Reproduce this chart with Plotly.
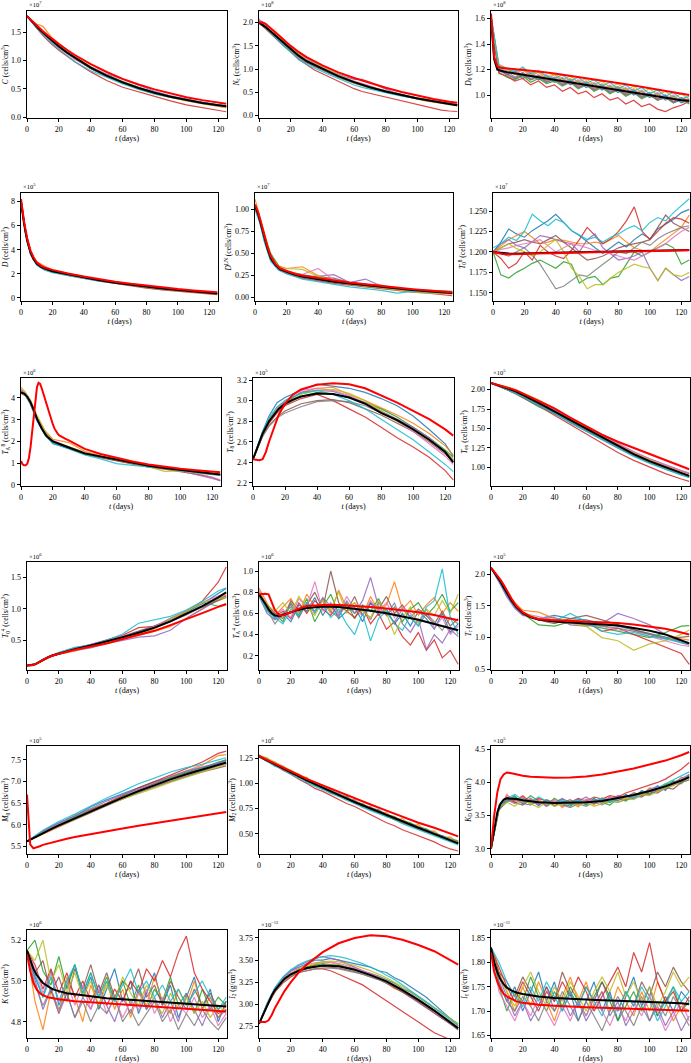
import plotly.graph_objects as go

# ---------------- time grids ----------------
T_FINE = [0, 2, 4, 6, 8, 10, 13, 16, 20, 25, 30, 40, 50, 60, 70, 80, 90, 100, 110, 120, 125]
T_SMOOTH = [0, 3, 6, 10, 15, 20, 30, 40, 50, 60, 70, 80, 90, 100, 110, 120, 125]
T_NOISY = [0, 5, 10, 15, 20, 25, 30, 35, 40, 45, 50, 55, 60, 65, 70, 75, 80, 85, 90, 95, 100, 105, 110, 115, 120, 125]
TA8_RED_T = [0, 1, 2, 3, 4, 5, 6, 7, 8, 9, 10, 11, 12, 13, 14, 15, 16, 17, 18, 19, 20, 21, 22, 23, 24,
             26, 28, 30, 35, 40, 50, 60, 70, 80, 90, 100, 110, 120, 125]
X_TICKS = [0, 20, 40, 60, 80, 100, 120]

# ---------------- C (x1e7) ----------------
C_RED = [1.78, 1.724, 1.669, 1.616, 1.565, 1.515, 1.444, 1.376, 1.290, 1.189, 1.097, 0.935, 0.798, 0.678, 0.578, 0.493, 0.420, 0.356, 0.304, 0.259, 0.239]
C_MEAN = [1.78, 1.718, 1.658, 1.600, 1.545, 1.491, 1.413, 1.339, 1.248, 1.140, 1.047, 0.875, 0.735, 0.616, 0.517, 0.433, 0.363, 0.305, 0.255, 0.214, 0.196]
C_RUNS = [
    [1.78, 1.68, 1.58, 1.47, 1.35, 1.24, 1.04, 0.86, 0.72, 0.62, 0.52, 0.44, 0.37, 0.31, 0.26, 0.22, 0.20],
    [1.78, 1.71, 1.64, 1.60, 1.42, 1.30, 1.08, 0.88, 0.73, 0.61, 0.50, 0.42, 0.35, 0.29, 0.24, 0.19, 0.17],
    [1.78, 1.70, 1.61, 1.50, 1.36, 1.24, 1.04, 0.86, 0.74, 0.63, 0.53, 0.44, 0.37, 0.31, 0.26, 0.21, 0.19],
    [1.78, 1.67, 1.57, 1.44, 1.30, 1.18, 0.98, 0.80, 0.65, 0.53, 0.45, 0.36, 0.29, 0.22, 0.17, 0.12, 0.10],
    [1.78, 1.69, 1.60, 1.49, 1.37, 1.27, 1.06, 0.89, 0.76, 0.67, 0.56, 0.46, 0.38, 0.32, 0.27, 0.22, 0.20],
    [1.78, 1.69, 1.59, 1.48, 1.35, 1.24, 1.03, 0.86, 0.72, 0.61, 0.51, 0.43, 0.36, 0.30, 0.25, 0.21, 0.19],
    [1.78, 1.68, 1.59, 1.47, 1.33, 1.22, 1.02, 0.87, 0.73, 0.62, 0.52, 0.43, 0.36, 0.30, 0.25, 0.20, 0.18],
    [1.78, 1.69, 1.60, 1.49, 1.36, 1.25, 1.05, 0.88, 0.74, 0.62, 0.52, 0.44, 0.37, 0.31, 0.26, 0.21, 0.19],
    [1.78, 1.70, 1.62, 1.52, 1.39, 1.27, 1.08, 0.89, 0.74, 0.61, 0.51, 0.42, 0.35, 0.29, 0.24, 0.20, 0.18],
    [1.78, 1.67, 1.58, 1.46, 1.32, 1.20, 0.98, 0.82, 0.70, 0.59, 0.49, 0.41, 0.35, 0.30, 0.26, 0.22, 0.21],
]

# ---------------- Nc (x1e8) ----------------
NC_RED = [2.00, 2.01, 1.98, 1.92, 1.86, 1.79, 1.70, 1.61, 1.50, 1.37, 1.26, 1.08, 0.93, 0.81, 0.70, 0.60, 0.51, 0.43, 0.36, 0.30, 0.28]
NC_MEAN = [2.00, 1.96, 1.91, 1.85, 1.79, 1.73, 1.64, 1.55, 1.42, 1.29, 1.17, 1.01, 0.85, 0.72, 0.61, 0.52, 0.44, 0.37, 0.31, 0.25, 0.225]
NC_RUNS = [
    [2.05, 1.90, 1.70, 1.55, 1.40, 1.27, 1.15, 1.06, 0.98, 0.90, 0.83, 0.77, 0.71, 0.66, 0.60, 0.55, 0.50, 0.47, 0.43, 0.39, 0.36, 0.33, 0.30, 0.27, 0.25, 0.23],
    [2.02, 1.95, 1.82, 1.66, 1.46, 1.33, 1.20, 1.10, 1.00, 0.92, 0.84, 0.77, 0.70, 0.64, 0.59, 0.55, 0.51, 0.47, 0.43, 0.39, 0.35, 0.32, 0.29, 0.26, 0.23, 0.21],
    [1.98, 1.87, 1.72, 1.58, 1.43, 1.30, 1.19, 1.12, 1.04, 0.95, 0.87, 0.80, 0.73, 0.67, 0.62, 0.57, 0.53, 0.49, 0.45, 0.41, 0.38, 0.35, 0.32, 0.29, 0.26, 0.24],
    [2.00, 1.85, 1.68, 1.52, 1.36, 1.22, 1.10, 0.98, 0.90, 0.82, 0.74, 0.66, 0.58, 0.52, 0.48, 0.45, 0.41, 0.37, 0.33, 0.28, 0.24, 0.20, 0.16, 0.12, 0.10, 0.09],
    [2.06, 1.89, 1.74, 1.60, 1.45, 1.34, 1.24, 1.12, 1.03, 0.96, 0.89, 0.83, 0.78, 0.78, 0.72, 0.64, 0.57, 0.50, 0.45, 0.41, 0.37, 0.34, 0.31, 0.28, 0.25, 0.23],
    [2.03, 1.88, 1.71, 1.57, 1.41, 1.28, 1.16, 1.07, 1.00, 0.92, 0.85, 0.78, 0.72, 0.66, 0.61, 0.56, 0.52, 0.48, 0.44, 0.41, 0.38, 0.35, 0.32, 0.29, 0.26, 0.24],
    [2.08, 1.90, 1.74, 1.60, 1.44, 1.33, 1.22, 1.14, 1.05, 0.95, 0.87, 0.80, 0.75, 0.70, 0.64, 0.58, 0.53, 0.49, 0.45, 0.42, 0.38, 0.34, 0.31, 0.28, 0.25, 0.23],
    [1.99, 1.86, 1.70, 1.55, 1.38, 1.25, 1.13, 1.05, 0.98, 0.90, 0.82, 0.76, 0.70, 0.65, 0.60, 0.56, 0.51, 0.47, 0.43, 0.40, 0.37, 0.34, 0.31, 0.28, 0.25, 0.23],
    [2.01, 1.89, 1.74, 1.60, 1.45, 1.33, 1.25, 1.14, 1.04, 0.96, 0.88, 0.80, 0.73, 0.67, 0.62, 0.57, 0.53, 0.48, 0.45, 0.41, 0.38, 0.35, 0.31, 0.28, 0.26, 0.24],
    [2.04, 1.86, 1.68, 1.52, 1.37, 1.20, 1.10, 1.02, 0.95, 0.87, 0.80, 0.73, 0.66, 0.61, 0.57, 0.53, 0.49, 0.46, 0.42, 0.39, 0.36, 0.33, 0.30, 0.27, 0.24, 0.22],
]

# ---------------- D0 (x1e8) ----------------
D0_RED = [1.64, 1.30, 1.225, 1.215, 1.212, 1.21, 1.206, 1.202, 1.198, 1.192, 1.185, 1.17, 1.152, 1.135, 1.115, 1.095, 1.075, 1.055, 1.035, 1.012, 1.0]
D0_MEAN = [1.60, 1.28, 1.20, 1.19, 1.185, 1.18, 1.175, 1.17, 1.16, 1.15, 1.14, 1.12, 1.10, 1.075, 1.055, 1.035, 1.015, 0.995, 0.98, 0.96, 0.955]
D0_RUNS = [
    [1.62, 1.20, 1.16, 1.19, 1.13, 1.17, 1.12, 1.15, 1.10, 1.13, 1.08, 1.11, 1.06, 1.09, 1.04, 1.07, 1.02, 1.05, 1.00, 1.03, 0.98, 1.01, 0.96, 0.99, 0.94, 0.96],
    [1.60, 1.24, 1.21, 1.16, 1.20, 1.15, 1.18, 1.12, 1.16, 1.10, 1.13, 1.08, 1.11, 1.06, 1.09, 1.04, 1.07, 1.02, 1.05, 0.99, 1.02, 0.97, 1.00, 0.95, 0.98, 0.96],
    [1.58, 1.18, 1.14, 1.12, 1.15, 1.10, 1.13, 1.09, 1.11, 1.07, 1.10, 1.05, 1.08, 1.03, 1.06, 1.01, 1.04, 0.99, 1.02, 0.97, 1.00, 0.96, 0.98, 0.94, 0.97, 0.93],
    [1.55, 1.17, 1.15, 1.11, 1.13, 1.08, 1.11, 1.06, 1.08, 1.03, 1.06, 1.01, 1.03, 0.98, 1.01, 0.96, 0.98, 0.93, 0.96, 0.91, 0.93, 0.89, 0.87, 0.90, 0.92, 0.95],
    [1.61, 1.21, 1.19, 1.14, 1.18, 1.13, 1.16, 1.11, 1.14, 1.09, 1.12, 1.07, 1.10, 1.05, 1.08, 1.03, 1.06, 1.01, 1.04, 0.99, 1.02, 0.97, 1.00, 0.95, 0.98, 0.94],
    [1.59, 1.19, 1.17, 1.13, 1.16, 1.12, 1.15, 1.10, 1.13, 1.08, 1.11, 1.06, 1.09, 1.04, 1.07, 1.02, 1.05, 1.00, 1.03, 0.98, 1.01, 0.96, 0.99, 0.94, 0.97, 0.95],
    [1.63, 1.22, 1.18, 1.20, 1.15, 1.18, 1.13, 1.16, 1.11, 1.14, 1.09, 1.12, 1.07, 1.10, 1.05, 1.08, 1.03, 1.06, 1.01, 1.04, 0.99, 1.02, 0.97, 1.00, 0.95, 0.97],
    [1.57, 1.20, 1.16, 1.13, 1.17, 1.12, 1.14, 1.10, 1.12, 1.08, 1.10, 1.06, 1.08, 1.04, 1.06, 1.02, 1.04, 1.00, 1.02, 0.98, 1.00, 0.96, 0.98, 0.94, 0.96, 0.94],
    [1.60, 1.22, 1.20, 1.17, 1.21, 1.16, 1.19, 1.14, 1.17, 1.12, 1.15, 1.10, 1.13, 1.08, 1.11, 1.06, 1.09, 1.04, 1.07, 1.02, 1.05, 1.00, 1.03, 0.98, 1.01, 0.97],
    [1.62, 1.23, 1.21, 1.18, 1.22, 1.17, 1.19, 1.15, 1.13, 1.16, 1.11, 1.14, 1.09, 1.12, 1.07, 1.10, 1.05, 1.08, 1.03, 1.06, 1.01, 1.04, 0.99, 1.02, 0.97, 0.99],
]

# ---------------- D (x1e5) ----------------
D_RED = [8.2, 6.3, 4.9, 3.95, 3.35, 2.95, 2.65, 2.48, 2.33, 2.17, 2.03, 1.78, 1.55, 1.35, 1.17, 1.01, 0.86, 0.74, 0.63, 0.52, 0.47]
D_MEAN = [8.0, 6.1, 4.7, 3.8, 3.2, 2.85, 2.55, 2.38, 2.22, 2.08, 1.95, 1.70, 1.47, 1.27, 1.09, 0.92, 0.78, 0.66, 0.54, 0.42, 0.37]
D_RUNS = [
    [7.9, 5.3, 3.7, 2.80, 2.40, 2.20, 1.93, 1.68, 1.44, 1.28, 1.10, 0.93, 0.77, 0.65, 0.52, 0.40, 0.35],
    [8.0, 5.5, 3.9, 3.00, 2.65, 2.30, 2.02, 1.75, 1.50, 1.30, 1.12, 0.95, 0.80, 0.68, 0.56, 0.44, 0.39],
    [8.0, 5.4, 3.8, 2.90, 2.45, 2.25, 2.00, 1.80, 1.45, 1.22, 1.06, 0.90, 0.76, 0.64, 0.52, 0.41, 0.36],
    [7.9, 5.3, 3.7, 2.80, 2.35, 2.15, 1.88, 1.62, 1.40, 1.20, 1.00, 0.82, 0.68, 0.56, 0.45, 0.33, 0.28],
    [8.0, 5.4, 3.8, 2.85, 2.45, 2.25, 1.97, 1.72, 1.50, 1.32, 1.14, 0.96, 0.82, 0.70, 0.60, 0.45, 0.40],
    [8.0, 5.4, 3.8, 2.85, 2.40, 2.20, 1.95, 1.70, 1.48, 1.28, 1.10, 0.93, 0.79, 0.67, 0.55, 0.43, 0.38],
    [8.1, 5.5, 3.9, 2.90, 2.45, 2.25, 1.98, 1.72, 1.49, 1.26, 1.08, 0.91, 0.77, 0.65, 0.53, 0.41, 0.36],
    [8.0, 5.4, 3.8, 2.85, 2.42, 2.22, 1.95, 1.70, 1.47, 1.27, 1.09, 0.92, 0.78, 0.66, 0.54, 0.42, 0.37],
    [8.0, 5.5, 3.9, 2.90, 2.50, 2.28, 2.00, 1.78, 1.50, 1.25, 1.05, 0.88, 0.74, 0.62, 0.50, 0.38, 0.33],
    [7.9, 5.3, 3.6, 2.70, 2.30, 2.10, 1.85, 1.60, 1.40, 1.22, 1.05, 0.90, 0.76, 0.65, 0.54, 0.43, 0.39],
]

# ---------------- D^LN (x1e7) ----------------
DLN_RED = [1.06, 0.97, 0.84, 0.70, 0.57, 0.47, 0.38, 0.33, 0.30, 0.27, 0.25, 0.22, 0.195, 0.17, 0.15, 0.13, 0.11, 0.095, 0.08, 0.068, 0.06]
DLN_MEAN = [1.04, 0.95, 0.82, 0.68, 0.55, 0.45, 0.37, 0.32, 0.29, 0.26, 0.24, 0.21, 0.18, 0.16, 0.14, 0.12, 0.10, 0.085, 0.07, 0.055, 0.05]
DLN_RUNS = [
    [1.02, 0.86, 0.64, 0.42, 0.32, 0.28, 0.24, 0.22, 0.20, 0.16, 0.13, 0.11, 0.09, 0.08, 0.07, 0.06, 0.05],
    [1.12, 0.93, 0.72, 0.48, 0.36, 0.33, 0.35, 0.25, 0.20, 0.17, 0.15, 0.14, 0.10, 0.08, 0.06, 0.05, 0.04],
    [1.05, 0.90, 0.70, 0.50, 0.36, 0.30, 0.26, 0.22, 0.19, 0.17, 0.15, 0.12, 0.10, 0.09, 0.08, 0.07, 0.07],
    [1.03, 0.88, 0.66, 0.43, 0.32, 0.27, 0.22, 0.19, 0.16, 0.14, 0.12, 0.10, 0.08, 0.06, 0.05, 0.03, 0.02],
    [1.04, 0.88, 0.67, 0.44, 0.33, 0.28, 0.25, 0.24, 0.26, 0.17, 0.21, 0.13, 0.11, 0.09, 0.07, 0.06, 0.05],
    [1.05, 0.89, 0.68, 0.46, 0.34, 0.30, 0.25, 0.23, 0.22, 0.17, 0.15, 0.12, 0.10, 0.09, 0.07, 0.05, 0.05],
    [1.04, 0.89, 0.68, 0.45, 0.34, 0.29, 0.26, 0.33, 0.20, 0.16, 0.14, 0.11, 0.09, 0.08, 0.07, 0.05, 0.04],
    [1.03, 0.88, 0.67, 0.44, 0.33, 0.28, 0.23, 0.20, 0.18, 0.15, 0.13, 0.11, 0.09, 0.08, 0.07, 0.06, 0.05],
    [1.06, 0.90, 0.69, 0.47, 0.35, 0.33, 0.32, 0.24, 0.19, 0.15, 0.13, 0.11, 0.09, 0.06, 0.05, 0.04, 0.07],
    [1.00, 0.85, 0.63, 0.41, 0.31, 0.27, 0.21, 0.18, 0.15, 0.12, 0.10, 0.08, 0.05, 0.07, 0.06, 0.07, 0.06],
]

# ---------------- T0^8 (x1e7) ----------------
T08_RED = [1.200, 1.199, 1.198, 1.1975, 1.197, 1.197, 1.197, 1.197, 1.1975, 1.198, 1.198, 1.1985, 1.199, 1.1995, 1.200, 1.2005, 1.201, 1.2015, 1.2018, 1.202, 1.202]
T08_MEAN = [1.200, 1.1995, 1.199, 1.1985, 1.198, 1.198, 1.1978, 1.1977, 1.198, 1.1983, 1.1986, 1.199, 1.1995, 1.200, 1.2005, 1.201, 1.2015, 1.2018, 1.202, 1.2022, 1.2023]
T08_RUNS = [
    [1.200, 1.212, 1.228, 1.222, 1.218, 1.226, 1.232, 1.238, 1.246, 1.236, 1.226, 1.220, 1.212, 1.205, 1.198, 1.205, 1.212, 1.206, 1.215, 1.222, 1.216, 1.228, 1.234, 1.240, 1.248, 1.252],
    [1.200, 1.208, 1.215, 1.220, 1.225, 1.218, 1.210, 1.212, 1.215, 1.214, 1.212, 1.210, 1.210, 1.212, 1.210, 1.215, 1.220, 1.212, 1.205, 1.202, 1.200, 1.208, 1.215, 1.222, 1.230, 1.245],
    [1.200, 1.172, 1.168, 1.175, 1.180, 1.186, 1.190, 1.185, 1.180, 1.188, 1.185, 1.162, 1.168, 1.170, 1.160, 1.168, 1.170, 1.185, 1.200, 1.195, 1.200, 1.205, 1.210, 1.205, 1.185, 1.190],
    [1.200, 1.192, 1.180, 1.186, 1.200, 1.190, 1.208, 1.200, 1.195, 1.192, 1.202, 1.215, 1.230, 1.220, 1.210, 1.216, 1.225, 1.238, 1.255, 1.225, 1.215, 1.225, 1.235, 1.242, 1.240, 1.235],
    [1.200, 1.210, 1.215, 1.208, 1.205, 1.212, 1.220, 1.218, 1.215, 1.212, 1.210, 1.200, 1.215, 1.222, 1.205, 1.198, 1.190, 1.192, 1.195, 1.200, 1.180, 1.165, 1.180, 1.172, 1.165, 1.170],
    [1.200, 1.205, 1.210, 1.212, 1.215, 1.212, 1.210, 1.215, 1.220, 1.212, 1.205, 1.198, 1.190, 1.192, 1.195, 1.200, 1.205, 1.208, 1.210, 1.212, 1.215, 1.230, 1.245, 1.235, 1.230, 1.225],
    [1.200, 1.203, 1.205, 1.208, 1.210, 1.212, 1.215, 1.208, 1.200, 1.205, 1.210, 1.208, 1.205, 1.202, 1.200, 1.198, 1.195, 1.192, 1.190, 1.195, 1.200, 1.205, 1.210, 1.218, 1.225, 1.230],
    [1.200, 1.198, 1.195, 1.200, 1.205, 1.196, 1.185, 1.170, 1.155, 1.158, 1.165, 1.172, 1.170, 1.178, 1.185, 1.192, 1.200, 1.198, 1.205, 1.212, 1.208, 1.216, 1.222, 1.226, 1.230, 1.232],
    [1.200, 1.205, 1.210, 1.204, 1.200, 1.195, 1.200, 1.208, 1.215, 1.200, 1.180, 1.170, 1.155, 1.160, 1.160, 1.168, 1.175, 1.180, 1.185, 1.182, 1.180, 1.165, 1.180, 1.172, 1.170, 1.175],
    [1.205, 1.210, 1.218, 1.214, 1.225, 1.246, 1.238, 1.232, 1.240, 1.236, 1.226, 1.220, 1.215, 1.218, 1.212, 1.218, 1.222, 1.228, 1.232, 1.226, 1.236, 1.242, 1.238, 1.248, 1.256, 1.265],
]

# ---------------- TA^8 (x1e6) ----------------
TA8_RED = [1.10, 0.95, 0.90, 0.90, 0.98, 1.25, 1.75, 2.45, 3.20, 3.95, 4.50, 4.70, 4.65, 4.45, 4.20, 3.95, 3.70, 3.45, 3.20, 2.98, 2.78, 2.60, 2.46, 2.36, 2.28,
           2.18, 2.12, 2.05, 1.85, 1.66, 1.42, 1.24, 1.08, 0.94, 0.83, 0.74, 0.67, 0.61, 0.58]
TA8_MEAN = [4.25, 4.20, 4.05, 3.80, 3.45, 3.05, 2.60, 2.25, 2.00, 1.85, 1.72, 1.45, 1.30, 1.15, 1.00, 0.88, 0.78, 0.69, 0.60, 0.52, 0.48]
TA8_RUNS = [
    [4.30, 4.10, 3.70, 2.95, 2.30, 1.90, 1.68, 1.42, 1.28, 1.12, 0.98, 0.86, 0.76, 0.68, 0.58, 0.50, 0.46],
    [4.40, 4.20, 3.90, 3.15, 2.50, 2.10, 1.95, 1.55, 1.35, 1.20, 1.06, 0.92, 0.82, 0.72, 0.62, 0.55, 0.50],
    [4.30, 4.15, 3.80, 3.05, 2.40, 2.00, 1.72, 1.48, 1.32, 1.15, 1.00, 0.88, 0.78, 0.68, 0.58, 0.50, 0.47],
    [4.20, 4.10, 3.75, 3.00, 2.35, 1.95, 1.68, 1.40, 1.25, 1.10, 0.95, 0.82, 0.72, 0.62, 0.50, 0.35, 0.20],
    [4.35, 4.15, 3.80, 3.05, 2.40, 2.02, 1.75, 1.48, 1.30, 1.16, 1.04, 0.90, 0.77, 0.64, 0.48, 0.30, 0.20],
    [4.30, 4.12, 3.80, 3.05, 2.40, 2.00, 1.72, 1.45, 1.30, 1.15, 1.02, 0.88, 0.78, 0.69, 0.60, 0.52, 0.48],
    [4.40, 4.20, 3.85, 3.10, 2.45, 2.05, 1.75, 1.50, 1.32, 1.16, 1.03, 0.88, 0.79, 0.70, 0.55, 0.35, 0.25],
    [4.25, 4.10, 3.78, 3.02, 2.38, 1.98, 1.70, 1.44, 1.28, 1.14, 1.00, 0.86, 0.77, 0.68, 0.58, 0.50, 0.46],
    [4.50, 4.25, 3.85, 3.20, 2.50, 2.00, 1.75, 1.50, 1.30, 1.15, 1.00, 0.84, 0.62, 0.64, 0.55, 0.48, 0.44],
    [4.30, 4.10, 3.75, 3.00, 2.35, 1.92, 1.65, 1.38, 1.20, 0.98, 0.90, 0.84, 0.76, 0.66, 0.56, 0.48, 0.44],
]

# ---------------- T8 (x1e5) ----------------
T8_RED = [2.43, 2.425, 2.42, 2.43, 2.50, 2.60, 2.74, 2.86, 2.97, 3.06, 3.11, 3.155, 3.17, 3.16, 3.12, 3.05, 2.98, 2.90, 2.82, 2.72, 2.66]
T8_MEAN = [2.43, 2.52, 2.60, 2.68, 2.74, 2.80, 2.86, 2.92, 2.97, 3.01, 3.04, 3.07, 3.065, 3.03, 2.97, 2.88, 2.81, 2.72, 2.62, 2.50, 2.40]
T8_RUNS = [
    [2.43, 2.57, 2.70, 2.85, 2.98, 3.03, 3.10, 3.16, 3.14, 3.12, 3.08, 3.02, 2.95, 2.85, 2.72, 2.58, 2.46],
    [2.43, 2.56, 2.69, 2.82, 2.92, 2.99, 3.08, 3.12, 3.13, 3.06, 3.00, 2.93, 2.86, 2.78, 2.68, 2.56, 2.47],
    [2.43, 2.55, 2.67, 2.79, 2.90, 2.96, 3.04, 3.08, 3.06, 3.03, 2.98, 2.92, 2.84, 2.74, 2.64, 2.52, 2.45],
    [2.43, 2.55, 2.66, 2.78, 2.88, 2.95, 3.02, 3.06, 3.00, 2.92, 2.84, 2.74, 2.64, 2.55, 2.45, 2.32, 2.23],
    [2.43, 2.56, 2.68, 2.81, 2.92, 2.98, 3.08, 3.10, 3.09, 3.04, 2.98, 2.90, 2.82, 2.74, 2.64, 2.50, 2.42],
    [2.43, 2.55, 2.66, 2.76, 2.84, 2.90, 2.97, 3.00, 3.01, 2.98, 2.92, 2.86, 2.78, 2.70, 2.60, 2.48, 2.41],
    [2.43, 2.56, 2.68, 2.82, 2.93, 3.00, 3.10, 3.12, 3.10, 3.05, 2.98, 2.90, 2.80, 2.70, 2.58, 2.46, 2.38],
    [2.43, 2.54, 2.65, 2.75, 2.83, 2.88, 2.94, 2.99, 3.00, 2.99, 2.95, 2.88, 2.80, 2.72, 2.62, 2.50, 2.42],
    [2.43, 2.56, 2.69, 2.81, 2.91, 2.98, 3.06, 3.10, 3.11, 3.07, 3.00, 2.90, 2.80, 2.72, 2.62, 2.50, 2.43],
    [2.43, 2.57, 2.70, 2.83, 2.94, 3.00, 3.07, 3.10, 3.06, 3.00, 2.92, 2.82, 2.72, 2.62, 2.50, 2.38, 2.31],
]

# ---------------- Tex (x1e5) ----------------
TEX_RED = [2.085, 2.075, 2.065, 2.055, 2.043, 2.03, 2.01, 1.99, 1.95, 1.905, 1.86, 1.76, 1.64, 1.53, 1.42, 1.33, 1.25, 1.17, 1.09, 1.01, 0.975]
TEX_MEAN = [2.085, 2.073, 2.061, 2.049, 2.035, 2.02, 1.998, 1.975, 1.93, 1.88, 1.83, 1.72, 1.60, 1.49, 1.38, 1.27, 1.17, 1.08, 1.00, 0.92, 0.89]
TEX_RUNS = [
    [2.085, 2.06, 2.04, 2.01, 1.96, 1.91, 1.80, 1.68, 1.58, 1.47, 1.36, 1.25, 1.15, 1.06, 0.98, 0.91, 0.88],
    [2.085, 2.07, 2.05, 2.02, 1.98, 1.94, 1.84, 1.73, 1.61, 1.50, 1.39, 1.29, 1.19, 1.10, 1.02, 0.95, 0.92],
    [2.085, 2.06, 2.04, 2.00, 1.96, 1.90, 1.78, 1.70, 1.60, 1.49, 1.38, 1.27, 1.17, 1.07, 0.99, 0.91, 0.88],
    [2.085, 2.06, 2.04, 2.00, 1.95, 1.90, 1.79, 1.67, 1.55, 1.42, 1.30, 1.19, 1.09, 1.00, 0.92, 0.85, 0.82],
    [2.085, 2.07, 2.05, 2.02, 1.98, 1.94, 1.85, 1.74, 1.62, 1.52, 1.41, 1.30, 1.20, 1.11, 1.03, 0.95, 0.92],
    [2.085, 2.065, 2.045, 2.02, 1.97, 1.92, 1.82, 1.71, 1.59, 1.48, 1.37, 1.26, 1.16, 1.07, 0.99, 0.91, 0.88],
    [2.085, 2.07, 2.05, 2.03, 1.98, 1.94, 1.85, 1.75, 1.63, 1.52, 1.41, 1.30, 1.20, 1.11, 1.03, 0.96, 0.93],
    [2.085, 2.065, 2.045, 2.02, 1.97, 1.92, 1.82, 1.71, 1.59, 1.48, 1.37, 1.26, 1.15, 1.06, 0.98, 0.90, 0.87],
    [2.085, 2.07, 2.06, 2.04, 2.00, 1.96, 1.87, 1.76, 1.63, 1.51, 1.40, 1.28, 1.18, 1.09, 1.01, 0.93, 0.90],
    [2.085, 2.06, 2.04, 2.00, 1.95, 1.91, 1.79, 1.70, 1.57, 1.46, 1.35, 1.24, 1.14, 1.05, 0.97, 0.90, 0.87],
]

# ---------------- T0^4 (x1e6) ----------------
T04_RED = [0.10, 0.10, 0.11, 0.13, 0.16, 0.19, 0.23, 0.26, 0.29, 0.32, 0.35, 0.40, 0.45, 0.52, 0.58, 0.65, 0.74, 0.83, 0.93, 1.03, 1.07]
T04_MEAN = [0.10, 0.10, 0.11, 0.13, 0.16, 0.19, 0.23, 0.26, 0.29, 0.33, 0.36, 0.42, 0.48, 0.55, 0.62, 0.70, 0.80, 0.92, 1.04, 1.18, 1.26]
T04_RUNS = [
    [0.10, 0.11, 0.13, 0.19, 0.26, 0.30, 0.38, 0.43, 0.49, 0.56, 0.64, 0.72, 0.82, 0.95, 1.08, 1.24, 1.32],
    [0.10, 0.11, 0.13, 0.18, 0.24, 0.28, 0.33, 0.40, 0.46, 0.52, 0.58, 0.64, 0.72, 0.85, 1.00, 1.16, 1.22],
    [0.10, 0.12, 0.14, 0.20, 0.26, 0.30, 0.35, 0.42, 0.49, 0.54, 0.60, 0.72, 0.85, 0.96, 1.10, 1.04, 1.08],
    [0.10, 0.11, 0.13, 0.19, 0.25, 0.29, 0.36, 0.43, 0.51, 0.58, 0.70, 0.72, 0.80, 0.96, 1.12, 1.42, 1.66],
    [0.10, 0.11, 0.13, 0.18, 0.24, 0.28, 0.34, 0.38, 0.45, 0.50, 0.55, 0.57, 0.66, 0.85, 1.00, 1.14, 1.20],
    [0.10, 0.11, 0.13, 0.19, 0.25, 0.29, 0.36, 0.42, 0.48, 0.56, 0.64, 0.73, 0.82, 0.92, 1.02, 1.12, 1.18],
    [0.10, 0.11, 0.13, 0.19, 0.25, 0.30, 0.37, 0.43, 0.50, 0.57, 0.62, 0.72, 0.85, 0.98, 1.10, 1.20, 1.25],
    [0.10, 0.11, 0.13, 0.19, 0.25, 0.29, 0.35, 0.41, 0.47, 0.54, 0.60, 0.69, 0.79, 0.90, 1.03, 1.15, 1.20],
    [0.10, 0.11, 0.13, 0.19, 0.25, 0.29, 0.35, 0.40, 0.46, 0.52, 0.60, 0.68, 0.82, 0.96, 1.10, 1.15, 1.18],
    [0.10, 0.12, 0.14, 0.20, 0.26, 0.31, 0.39, 0.43, 0.50, 0.60, 0.77, 0.82, 0.88, 0.98, 1.12, 1.28, 1.33],
]

# ---------------- TA^4 (x1e6) ----------------
TA4_RED = [0.78, 0.785, 0.785, 0.78, 0.70, 0.63, 0.58, 0.585, 0.61, 0.645, 0.67, 0.68, 0.678, 0.67, 0.66, 0.645, 0.63, 0.61, 0.585, 0.555, 0.535]
TA4_MEAN = [0.78, 0.74, 0.69, 0.64, 0.60, 0.58, 0.575, 0.59, 0.61, 0.635, 0.65, 0.665, 0.66, 0.645, 0.625, 0.60, 0.57, 0.54, 0.50, 0.46, 0.44]
TA4_RUNS = [
    [0.78, 0.65, 0.55, 0.60, 0.52, 0.68, 0.62, 0.75, 0.58, 0.70, 0.55, 0.62, 0.66, 0.52, 0.70, 0.58, 0.64, 0.50, 0.60, 0.48, 0.62, 0.55, 0.45, 0.60, 0.42, 0.50],
    [0.84, 0.70, 0.58, 0.66, 0.74, 0.60, 0.78, 0.66, 0.72, 0.60, 0.82, 0.65, 0.70, 0.58, 0.76, 0.62, 0.68, 0.90, 0.64, 0.72, 0.58, 0.68, 0.75, 0.60, 0.70, 0.62],
    [0.80, 0.62, 0.60, 0.52, 0.70, 0.58, 0.74, 0.52, 0.66, 0.78, 0.60, 0.70, 0.55, 0.68, 0.62, 0.74, 0.58, 0.66, 0.52, 0.64, 0.70, 0.58, 0.66, 0.78, 0.62, 0.70],
    [0.78, 0.66, 0.57, 0.62, 0.55, 0.70, 0.60, 0.72, 0.64, 0.58, 0.68, 0.62, 0.56, 0.66, 0.50, 0.60, 0.45, 0.52, 0.38, 0.30, 0.42, 0.25, 0.35, 0.18, 0.25, 0.12],
    [0.76, 0.60, 0.54, 0.58, 0.68, 0.56, 0.70, 0.62, 0.75, 0.66, 0.58, 0.68, 0.60, 0.72, 0.94, 0.66, 0.58, 0.70, 0.50, 0.42, 0.55, 0.26, 0.40, 0.32, 0.45, 0.38],
    [0.80, 0.68, 0.60, 0.55, 0.72, 0.62, 0.68, 0.80, 0.64, 1.00, 0.70, 0.62, 0.76, 0.58, 0.70, 0.64, 0.76, 0.60, 0.68, 0.56, 0.64, 0.58, 0.50, 0.62, 0.48, 0.55],
    [0.82, 0.66, 0.58, 0.64, 0.56, 0.74, 0.66, 0.90, 0.62, 0.70, 0.60, 0.76, 0.64, 0.58, 0.72, 0.62, 0.70, 0.56, 0.66, 0.60, 0.52, 0.64, 0.46, 0.56, 0.40, 0.48],
    [0.78, 0.64, 0.50, 0.60, 0.66, 0.56, 0.70, 0.60, 0.74, 0.62, 0.56, 0.72, 0.60, 0.66, 0.54, 0.70, 0.60, 0.52, 0.64, 0.56, 0.48, 0.60, 0.52, 0.44, 0.56, 0.50],
    [0.80, 0.68, 0.62, 0.70, 0.60, 0.76, 0.66, 0.58, 0.72, 0.64, 0.80, 0.60, 0.70, 0.62, 0.56, 0.72, 0.60, 0.40, 0.56, 0.66, 0.50, 0.64, 0.58, 0.72, 0.60, 0.78],
    [0.78, 0.62, 0.56, 0.50, 0.64, 0.58, 0.70, 0.62, 0.68, 0.56, 0.64, 0.50, 0.40, 0.60, 0.34, 0.55, 0.62, 0.50, 0.44, 0.58, 0.48, 0.66, 0.72, 1.02, 0.56, 0.40],
]

# ---------------- Tr (x1e5) ----------------
TR_RED = [2.10, 2.04, 1.98, 1.91, 1.83, 1.74, 1.61, 1.50, 1.40, 1.33, 1.29, 1.275, 1.265, 1.25, 1.24, 1.23, 1.205, 1.175, 1.14, 1.08, 1.05]
TR_MEAN = [2.10, 2.03, 1.96, 1.88, 1.79, 1.70, 1.58, 1.48, 1.39, 1.32, 1.285, 1.255, 1.24, 1.225, 1.21, 1.19, 1.15, 1.11, 1.05, 0.96, 0.91]
TR_RUNS = [
    [2.10, 1.98, 1.85, 1.67, 1.48, 1.36, 1.30, 1.35, 1.30, 1.28, 1.22, 1.18, 1.12, 1.06, 1.00, 0.95, 0.92],
    [2.10, 2.00, 1.88, 1.70, 1.55, 1.43, 1.40, 1.30, 1.28, 1.25, 1.22, 1.20, 1.15, 1.10, 1.05, 0.98, 0.96],
    [2.10, 2.00, 1.86, 1.68, 1.50, 1.38, 1.20, 1.18, 1.25, 1.20, 1.15, 1.10, 1.05, 1.00, 1.08, 1.18, 1.19],
    [2.10, 1.99, 1.86, 1.68, 1.50, 1.38, 1.28, 1.25, 1.22, 1.25, 1.10, 1.15, 1.05, 0.95, 0.85, 0.75, 0.58],
    [2.10, 1.97, 1.83, 1.64, 1.46, 1.35, 1.30, 1.32, 1.20, 1.18, 1.22, 1.38, 1.30, 1.20, 1.05, 0.92, 0.88],
    [2.10, 2.00, 1.87, 1.69, 1.50, 1.37, 1.28, 1.22, 1.30, 1.35, 1.28, 1.20, 1.12, 1.05, 0.98, 1.00, 1.02],
    [2.10, 2.00, 1.87, 1.69, 1.50, 1.38, 1.33, 1.28, 1.22, 1.26, 1.18, 1.12, 1.10, 1.02, 0.95, 0.88, 0.86],
    [2.10, 1.99, 1.86, 1.69, 1.50, 1.38, 1.28, 1.25, 1.22, 1.20, 1.18, 1.15, 1.10, 1.05, 1.00, 0.92, 0.90],
    [2.10, 2.00, 1.88, 1.71, 1.52, 1.40, 1.30, 1.27, 1.22, 1.18, 1.00, 0.95, 0.80, 0.90, 0.95, 1.05, 1.12],
    [2.10, 1.99, 1.86, 1.68, 1.50, 1.38, 1.28, 1.26, 1.38, 1.25, 1.10, 1.05, 1.08, 1.02, 0.98, 0.92, 0.90],
]

# ---------------- M0 (x1e5) ----------------
M0_RED = [6.70, 5.55, 5.46, 5.48, 5.51, 5.54, 5.57, 5.60, 5.64, 5.68, 5.72, 5.79, 5.86, 5.92, 5.98, 6.04, 6.10, 6.16, 6.21, 6.27, 6.30]
M0_MEAN = [5.62, 5.66, 5.70, 5.74, 5.78, 5.82, 5.87, 5.92, 5.99, 6.07, 6.15, 6.32, 6.48, 6.63, 6.78, 6.92, 7.05, 7.17, 7.28, 7.39, 7.44]
M0_RUNS = [
    [5.62, 5.70, 5.76, 5.86, 5.96, 6.05, 6.20, 6.42, 6.58, 6.72, 6.86, 7.00, 7.10, 7.22, 7.32, 7.42, 7.50],
    [5.62, 5.67, 5.72, 5.80, 5.88, 5.97, 6.12, 6.28, 6.45, 6.62, 6.80, 6.96, 7.10, 7.25, 7.38, 7.60, 7.62],
    [5.62, 5.69, 5.75, 5.83, 5.92, 6.00, 6.18, 6.36, 6.50, 6.66, 6.80, 6.95, 7.08, 7.20, 7.30, 7.45, 7.50],
    [5.62, 5.68, 5.74, 5.82, 5.92, 6.00, 6.16, 6.34, 6.50, 6.68, 6.85, 7.00, 7.15, 7.30, 7.45, 7.65, 7.70],
    [5.62, 5.69, 5.76, 5.85, 5.95, 6.04, 6.22, 6.38, 6.55, 6.70, 6.82, 6.96, 7.12, 7.24, 7.34, 7.44, 7.48],
    [5.62, 5.67, 5.73, 5.81, 5.90, 5.98, 6.14, 6.30, 6.46, 6.60, 6.75, 6.88, 7.00, 7.12, 7.22, 7.32, 7.36],
    [5.62, 5.68, 5.74, 5.83, 5.92, 6.00, 6.15, 6.30, 6.47, 6.62, 6.76, 6.90, 7.03, 7.15, 7.26, 7.37, 7.42],
    [5.62, 5.67, 5.72, 5.80, 5.89, 5.97, 6.12, 6.28, 6.44, 6.60, 6.74, 6.88, 7.00, 7.12, 7.24, 7.36, 7.40],
    [5.62, 5.68, 5.74, 5.82, 5.90, 5.98, 6.14, 6.30, 6.46, 6.60, 6.72, 6.85, 6.98, 7.10, 7.22, 7.34, 7.40],
    [5.62, 5.70, 5.78, 5.88, 5.98, 6.08, 6.25, 6.44, 6.62, 6.78, 6.95, 7.08, 7.22, 7.32, 7.40, 7.50, 7.55],
]

# ---------------- M2 (x1e6) ----------------
M2_RED = [1.27, 1.255, 1.24, 1.225, 1.21, 1.195, 1.17, 1.15, 1.12, 1.08, 1.045, 0.98, 0.915, 0.85, 0.79, 0.73, 0.67, 0.61, 0.56, 0.50, 0.475]
M2_MEAN = [1.27, 1.25, 1.235, 1.22, 1.205, 1.19, 1.165, 1.14, 1.11, 1.07, 1.03, 0.955, 0.885, 0.815, 0.75, 0.685, 0.62, 0.56, 0.50, 0.435, 0.405]
M2_RUNS = [
    [1.27, 1.25, 1.18, 1.17, 1.10, 1.09, 1.02, 1.01, 0.94, 0.93, 0.87, 0.87, 0.80, 0.79, 0.74, 0.73, 0.67, 0.66, 0.61, 0.60, 0.55, 0.54, 0.49, 0.48, 0.43, 0.42],
    [1.28, 1.22, 1.21, 1.14, 1.13, 1.06, 1.06, 0.98, 0.98, 0.90, 0.90, 0.84, 0.84, 0.77, 0.77, 0.71, 0.71, 0.64, 0.65, 0.58, 0.59, 0.52, 0.53, 0.46, 0.47, 0.41],
    [1.26, 1.24, 1.17, 1.16, 1.09, 1.09, 1.02, 1.01, 0.95, 0.94, 0.88, 0.87, 0.81, 0.80, 0.75, 0.74, 0.69, 0.67, 0.63, 0.61, 0.57, 0.55, 0.51, 0.48, 0.45, 0.43],
    [1.27, 1.22, 1.18, 1.13, 1.09, 1.04, 1.00, 0.95, 0.92, 0.88, 0.84, 0.80, 0.77, 0.73, 0.69, 0.65, 0.61, 0.58, 0.54, 0.51, 0.48, 0.45, 0.42, 0.38, 0.35, 0.33],
    [1.28, 1.24, 1.20, 1.16, 1.12, 1.08, 1.04, 1.00, 0.97, 0.93, 0.90, 0.86, 0.83, 0.79, 0.76, 0.73, 0.69, 0.66, 0.62, 0.60, 0.56, 0.54, 0.50, 0.48, 0.44, 0.42],
    [1.26, 1.23, 1.18, 1.15, 1.10, 1.07, 1.02, 0.99, 0.95, 0.91, 0.88, 0.85, 0.81, 0.78, 0.74, 0.71, 0.68, 0.65, 0.61, 0.58, 0.55, 0.52, 0.49, 0.46, 0.43, 0.40],
    [1.27, 1.23, 1.20, 1.16, 1.12, 1.07, 1.04, 1.00, 0.96, 0.92, 0.89, 0.86, 0.82, 0.79, 0.76, 0.72, 0.69, 0.66, 0.63, 0.59, 0.56, 0.53, 0.50, 0.47, 0.44, 0.41],
    [1.27, 1.22, 1.19, 1.14, 1.11, 1.06, 1.03, 0.98, 0.95, 0.91, 0.88, 0.84, 0.81, 0.77, 0.74, 0.71, 0.68, 0.64, 0.61, 0.58, 0.55, 0.52, 0.49, 0.46, 0.43, 0.40],
    [1.28, 1.25, 1.21, 1.17, 1.13, 1.09, 1.05, 1.01, 0.97, 0.93, 0.89, 0.86, 0.82, 0.79, 0.75, 0.72, 0.68, 0.65, 0.62, 0.59, 0.56, 0.53, 0.50, 0.47, 0.44, 0.41],
    [1.26, 1.22, 1.17, 1.14, 1.09, 1.05, 1.01, 0.97, 0.94, 0.90, 0.87, 0.83, 0.80, 0.76, 0.73, 0.70, 0.67, 0.64, 0.60, 0.57, 0.54, 0.51, 0.48, 0.45, 0.42, 0.39],
]

# ---------------- K_D (x1e5) ----------------
KD_RED = [3.00, 3.50, 3.85, 4.05, 4.12, 4.15, 4.14, 4.12, 4.10, 4.085, 4.08, 4.07, 4.075, 4.09, 4.12, 4.16, 4.21, 4.27, 4.33, 4.41, 4.46]
KD_MEAN = [3.00, 3.30, 3.55, 3.68, 3.74, 3.76, 3.76, 3.75, 3.73, 3.71, 3.70, 3.69, 3.69, 3.70, 3.72, 3.76, 3.81, 3.87, 3.94, 4.03, 4.08]
KD_RUNS = [
    [3.00, 3.65, 3.72, 3.80, 3.68, 3.76, 3.65, 3.74, 3.64, 3.72, 3.66, 3.75, 3.67, 3.76, 3.68, 3.78, 3.72, 3.82, 3.76, 3.88, 3.82, 3.95, 3.88, 4.02, 4.00, 4.12],
    [3.00, 3.58, 3.82, 3.70, 3.78, 3.66, 3.75, 3.64, 3.74, 3.62, 3.72, 3.63, 3.75, 3.66, 3.77, 3.70, 3.80, 3.74, 3.85, 3.80, 3.92, 3.86, 3.98, 3.95, 4.08, 4.05],
    [3.00, 3.60, 3.70, 3.78, 3.70, 3.80, 3.72, 3.66, 3.76, 3.68, 3.64, 3.72, 3.66, 3.74, 3.70, 3.66, 3.76, 3.72, 3.80, 3.86, 3.82, 3.90, 3.96, 4.02, 3.98, 4.10],
    [3.00, 3.64, 3.78, 3.72, 3.80, 3.70, 3.76, 3.72, 3.68, 3.75, 3.70, 3.76, 3.72, 3.78, 3.75, 3.80, 3.78, 3.84, 3.88, 3.92, 3.95, 4.00, 4.05, 4.12, 4.20, 4.30],
    [3.00, 3.66, 3.74, 3.68, 3.76, 3.72, 3.66, 3.74, 3.70, 3.76, 3.68, 3.72, 3.78, 3.70, 3.76, 3.74, 3.80, 3.78, 3.84, 3.82, 3.90, 3.94, 3.92, 4.00, 4.06, 4.12],
    [3.00, 3.60, 3.76, 3.70, 3.66, 3.74, 3.68, 3.72, 3.65, 3.70, 3.74, 3.66, 3.72, 3.68, 3.74, 3.70, 3.76, 3.74, 3.80, 3.78, 3.86, 3.84, 3.92, 3.90, 4.00, 4.04],
    [3.00, 3.62, 3.80, 3.74, 3.70, 3.76, 3.70, 3.66, 3.72, 3.64, 3.70, 3.68, 3.74, 3.72, 3.70, 3.78, 3.74, 3.80, 3.78, 3.84, 3.88, 3.86, 3.94, 3.98, 4.04, 4.08],
    [3.00, 3.58, 3.72, 3.76, 3.68, 3.66, 3.72, 3.64, 3.70, 3.66, 3.62, 3.68, 3.64, 3.70, 3.66, 3.72, 3.70, 3.74, 3.76, 3.80, 3.82, 3.88, 3.90, 3.96, 4.00, 4.04],
    [3.00, 3.62, 3.70, 3.64, 3.74, 3.68, 3.62, 3.70, 3.64, 3.68, 3.72, 3.66, 3.70, 3.64, 3.68, 3.72, 3.70, 3.76, 3.74, 3.82, 3.80, 3.86, 3.92, 3.96, 4.02, 4.06],
    [3.00, 3.64, 3.76, 3.82, 3.74, 3.70, 3.78, 3.72, 3.68, 3.74, 3.70, 3.74, 3.68, 3.72, 3.76, 3.70, 3.76, 3.80, 3.76, 3.84, 3.88, 3.92, 3.98, 4.04, 4.10, 4.16],
]

# ---------------- K (x1e6) ----------------
K_RED = [5.13, 5.05, 4.99, 4.96, 4.94, 4.93, 4.92, 4.915, 4.91, 4.905, 4.90, 4.895, 4.89, 4.885, 4.88, 4.875, 4.87, 4.865, 4.86, 4.855, 4.85]
K_MEAN = [5.15, 5.10, 5.06, 5.03, 5.01, 4.99, 4.975, 4.96, 4.95, 4.94, 4.935, 4.925, 4.915, 4.91, 4.905, 4.90, 4.895, 4.89, 4.885, 4.88, 4.875]
K_RUNS = [
    [5.15, 5.02, 4.92, 5.05, 4.88, 4.98, 5.08, 4.92, 5.02, 4.86, 4.96, 5.06, 4.90, 5.00, 4.84, 4.94, 5.04, 4.88, 4.98, 4.82, 4.92, 5.02, 4.86, 4.96, 4.80, 4.90],
    [5.15, 4.90, 4.76, 4.95, 4.84, 5.02, 4.92, 4.80, 4.98, 4.88, 5.00, 4.86, 4.96, 4.82, 4.94, 4.88, 5.02, 4.90, 4.84, 4.96, 4.88, 5.00, 4.86, 4.92, 4.82, 4.88],
    [5.15, 5.20, 5.05, 4.98, 5.12, 4.96, 5.08, 4.94, 5.04, 4.92, 5.02, 4.90, 5.00, 4.88, 4.98, 4.86, 4.96, 4.90, 5.02, 4.88, 4.94, 4.84, 4.96, 4.86, 4.92, 4.88],
    [5.15, 5.08, 4.96, 5.06, 4.94, 5.04, 4.92, 5.00, 4.90, 4.98, 4.88, 4.96, 4.90, 5.00, 4.94, 5.06, 5.00, 5.10, 5.02, 5.14, 5.22, 5.04, 4.96, 4.90, 4.84, 4.86],
    [5.15, 5.00, 4.86, 4.96, 4.84, 4.94, 4.82, 4.92, 4.86, 4.98, 4.88, 4.80, 4.92, 4.84, 4.96, 4.86, 4.92, 4.82, 4.90, 4.80, 4.94, 4.86, 4.78, 4.88, 4.82, 4.86],
    [5.15, 5.04, 5.10, 4.94, 5.02, 4.90, 5.06, 4.96, 5.08, 4.94, 5.04, 4.92, 5.00, 4.96, 5.06, 4.92, 4.98, 4.88, 5.00, 4.92, 4.86, 4.96, 4.88, 4.94, 4.86, 4.90],
    [5.15, 5.06, 4.94, 5.04, 4.90, 5.00, 4.88, 4.98, 4.86, 4.96, 4.84, 4.92, 4.82, 4.90, 4.86, 4.96, 4.84, 4.92, 4.80, 4.88, 4.84, 4.92, 4.82, 4.88, 4.78, 4.84],
    [5.15, 4.98, 4.88, 4.96, 4.86, 4.94, 4.82, 4.90, 4.80, 4.88, 4.84, 4.92, 4.80, 4.86, 4.78, 4.84, 4.90, 4.80, 4.86, 4.76, 4.84, 4.78, 4.86, 4.80, 4.76, 4.82],
    [5.15, 5.10, 5.20, 5.00, 5.08, 4.94, 5.04, 4.92, 5.00, 4.88, 4.98, 4.90, 5.02, 4.94, 4.88, 4.98, 4.90, 4.84, 4.94, 4.86, 4.92, 4.84, 4.90, 4.82, 4.88, 4.84],
    [5.15, 5.04, 4.92, 5.02, 4.90, 5.00, 5.08, 4.94, 5.04, 4.92, 5.00, 4.90, 4.98, 5.06, 4.94, 5.00, 4.92, 4.98, 4.90, 4.96, 4.88, 4.94, 5.00, 4.92, 4.86, 4.92],
]

# ---------------- I2 (x1e-12) ----------------
I2_RED = [2.80, 2.80, 2.80, 2.82, 2.88, 2.96, 3.06, 3.15, 3.25, 3.36, 3.45, 3.59, 3.69, 3.75, 3.78, 3.77, 3.73, 3.67, 3.60, 3.50, 3.45]
I2_MEAN = [2.78, 2.86, 2.95, 3.03, 3.10, 3.16, 3.23, 3.29, 3.34, 3.38, 3.41, 3.44, 3.43, 3.39, 3.33, 3.26, 3.16, 3.05, 2.93, 2.80, 2.73]
I2_RUNS = [
    [2.78, 3.00, 3.18, 3.30, 3.38, 3.42, 3.46, 3.50, 3.50, 3.52, 3.50, 3.48, 3.46, 3.44, 3.42, 3.38, 3.36, 3.30, 3.26, 3.20, 3.14, 3.08, 3.00, 2.92, 2.84, 2.76],
    [2.78, 2.98, 3.14, 3.26, 3.33, 3.38, 3.42, 3.45, 3.48, 3.47, 3.45, 3.42, 3.40, 3.38, 3.34, 3.30, 3.24, 3.18, 3.14, 3.08, 3.04, 2.98, 2.92, 2.86, 2.80, 2.74],
    [2.78, 2.99, 3.16, 3.27, 3.35, 3.40, 3.42, 3.44, 3.46, 3.45, 3.44, 3.42, 3.40, 3.37, 3.35, 3.32, 3.28, 3.24, 3.18, 3.14, 3.08, 3.02, 2.96, 2.90, 2.84, 2.78],
    [2.78, 2.98, 3.14, 3.24, 3.31, 3.36, 3.38, 3.40, 3.40, 3.38, 3.34, 3.30, 3.26, 3.22, 3.16, 3.10, 3.05, 2.98, 2.92, 2.86, 2.80, 2.74, 2.68, 2.64, 2.60, 2.58],
    [2.78, 3.00, 3.18, 3.30, 3.38, 3.44, 3.48, 3.52, 3.54, 3.52, 3.50, 3.46, 3.42, 3.38, 3.34, 3.30, 3.26, 3.20, 3.14, 3.08, 3.02, 2.96, 2.90, 2.84, 2.78, 2.72],
    [2.78, 2.99, 3.16, 3.27, 3.34, 3.38, 3.40, 3.42, 3.43, 3.42, 3.41, 3.39, 3.37, 3.34, 3.31, 3.28, 3.24, 3.19, 3.14, 3.09, 3.03, 2.97, 2.91, 2.85, 2.78, 2.71],
    [2.78, 3.00, 3.17, 3.29, 3.36, 3.41, 3.45, 3.47, 3.48, 3.48, 3.46, 3.44, 3.41, 3.38, 3.35, 3.31, 3.27, 3.22, 3.17, 3.12, 3.06, 3.00, 2.94, 2.88, 2.81, 2.74],
    [2.78, 2.98, 3.15, 3.25, 3.32, 3.36, 3.38, 3.40, 3.41, 3.41, 3.40, 3.38, 3.36, 3.34, 3.31, 3.28, 3.24, 3.20, 3.15, 3.10, 3.05, 2.99, 2.93, 2.87, 2.80, 2.74],
    [2.78, 2.99, 3.16, 3.28, 3.35, 3.40, 3.44, 3.46, 3.48, 3.49, 3.48, 3.46, 3.44, 3.41, 3.38, 3.34, 3.30, 3.25, 3.20, 3.15, 3.09, 3.03, 2.97, 2.90, 2.84, 2.77],
    [2.78, 3.01, 3.19, 3.31, 3.39, 3.45, 3.49, 3.52, 3.54, 3.55, 3.54, 3.52, 3.49, 3.46, 3.42, 3.38, 3.33, 3.28, 3.22, 3.16, 3.10, 3.03, 2.96, 2.89, 2.82, 2.76],
]

# ---------------- I_gamma (x1e-11) ----------------
IG_RED = [1.82, 1.78, 1.76, 1.745, 1.735, 1.73, 1.725, 1.72, 1.717, 1.715, 1.713, 1.711, 1.709, 1.708, 1.707, 1.706, 1.705, 1.704, 1.703, 1.702, 1.701]
IG_MEAN = [1.83, 1.80, 1.78, 1.765, 1.755, 1.748, 1.742, 1.738, 1.735, 1.732, 1.73, 1.727, 1.725, 1.723, 1.722, 1.721, 1.72, 1.719, 1.718, 1.716, 1.714]
IG_RUNS = [
    [1.83, 1.76, 1.72, 1.75, 1.70, 1.74, 1.78, 1.72, 1.76, 1.70, 1.74, 1.68, 1.72, 1.76, 1.70, 1.74, 1.68, 1.73, 1.77, 1.71, 1.75, 1.69, 1.73, 1.70, 1.74, 1.72],
    [1.83, 1.78, 1.74, 1.70, 1.75, 1.71, 1.76, 1.72, 1.68, 1.73, 1.77, 1.72, 1.76, 1.71, 1.74, 1.70, 1.75, 1.72, 1.69, 1.74, 1.70, 1.76, 1.72, 1.68, 1.71, 1.70],
    [1.83, 1.75, 1.70, 1.74, 1.72, 1.77, 1.73, 1.70, 1.74, 1.71, 1.75, 1.72, 1.69, 1.73, 1.76, 1.72, 1.68, 1.71, 1.74, 1.70, 1.73, 1.69, 1.72, 1.75, 1.70, 1.72],
    [1.83, 1.79, 1.75, 1.72, 1.76, 1.73, 1.70, 1.74, 1.72, 1.76, 1.73, 1.77, 1.74, 1.70, 1.73, 1.76, 1.79, 1.75, 1.82, 1.78, 1.84, 1.76, 1.72, 1.74, 1.70, 1.73],
    [1.83, 1.77, 1.73, 1.69, 1.72, 1.68, 1.71, 1.75, 1.70, 1.73, 1.69, 1.72, 1.68, 1.71, 1.74, 1.69, 1.72, 1.67, 1.70, 1.73, 1.68, 1.71, 1.67, 1.70, 1.66, 1.69],
    [1.83, 1.78, 1.76, 1.73, 1.77, 1.74, 1.71, 1.75, 1.72, 1.78, 1.74, 1.71, 1.75, 1.72, 1.76, 1.73, 1.70, 1.74, 1.71, 1.76, 1.73, 1.78, 1.75, 1.79, 1.76, 1.74],
    [1.83, 1.74, 1.71, 1.68, 1.72, 1.69, 1.73, 1.70, 1.67, 1.71, 1.68, 1.72, 1.69, 1.73, 1.70, 1.67, 1.71, 1.68, 1.72, 1.69, 1.73, 1.70, 1.66, 1.69, 1.72, 1.68],
    [1.83, 1.76, 1.72, 1.70, 1.73, 1.71, 1.68, 1.72, 1.70, 1.74, 1.71, 1.68, 1.72, 1.69, 1.66, 1.70, 1.73, 1.70, 1.67, 1.71, 1.68, 1.72, 1.69, 1.73, 1.70, 1.67],
    [1.83, 1.77, 1.74, 1.71, 1.75, 1.78, 1.74, 1.71, 1.75, 1.72, 1.76, 1.73, 1.70, 1.74, 1.77, 1.74, 1.78, 1.73, 1.76, 1.72, 1.75, 1.71, 1.74, 1.78, 1.75, 1.77],
    [1.83, 1.80, 1.76, 1.73, 1.71, 1.75, 1.72, 1.76, 1.73, 1.70, 1.74, 1.71, 1.75, 1.72, 1.69, 1.73, 1.70, 1.74, 1.71, 1.75, 1.72, 1.68, 1.71, 1.75, 1.72, 1.74],
]

# ---------------- styling ----------------
RUN_COLORS = ['#1f77b4', '#ff7f0e', '#2ca02c', '#d62728', '#9467bd',
              '#8c564b', '#e377c2', '#7f7f7f', '#bcbd22', '#17becf']
FONT = 'Liberation Serif'
W, H = 691, 1063
UNIT_C = ' (cells/cm<sup>3</sup>)'
UNIT_G = ' (g/cm<sup>3</sup>)'

PANELS = [
    dict(runs=C_RUNS, tr=T_SMOOTH, mean=C_MEAN, red=C_RED, lab='<i>C</i>' + UNIT_C, exp='7', yr=[-0.01, 1.87], yt=[0, 0.5, 1.0, 1.5], fmt='.1f'),
    dict(runs=NC_RUNS, tr=T_NOISY, mean=NC_MEAN, red=NC_RED, lab='<i>N</i><sub>c</sub>' + UNIT_C, exp='8', yr=[-0.05, 2.25], yt=[0, 0.5, 1.0, 1.5, 2.0], fmt='.1f'),
    dict(runs=D0_RUNS, tr=T_NOISY, mean=D0_MEAN, red=D0_RED, lab='<i>D</i><sub>0</sub>' + UNIT_C, exp='8', yr=[0.82, 1.66], yt=[1.0, 1.2, 1.4, 1.6], fmt='.1f'),
    dict(runs=D_RUNS, tr=T_SMOOTH, mean=D_MEAN, red=D_RED, lab='<i>D</i>' + UNIT_C, exp='5', yr=[-0.25, 8.7], yt=[0, 2, 4, 6, 8], fmt='d'),
    dict(runs=DLN_RUNS, tr=T_SMOOTH, mean=DLN_MEAN, red=DLN_RED, lab='<i>D</i><sup>LN</sup>' + UNIT_C, exp='7', yr=[-0.04, 1.19], yt=[0, 0.25, 0.5, 0.75, 1.0], fmt='.2f'),
    dict(runs=T08_RUNS, tr=T_NOISY, mean=T08_MEAN, red=T08_RED, lab='<i>T</i><sub>0</sub><sup>8</sup>' + UNIT_C, exp='7', yr=[1.140, 1.272], yt=[1.15, 1.175, 1.2, 1.225, 1.25], fmt='.3f'),
    dict(runs=TA8_RUNS, tr=T_SMOOTH, mean=TA8_MEAN, red=TA8_RED, tred=TA8_RED_T, lab='<i>T</i><sub>A</sub><sup>8</sup>' + UNIT_C, exp='6', yr=[-0.05, 4.92], yt=[0, 1, 2, 3, 4], fmt='d'),
    dict(runs=T8_RUNS, tr=T_SMOOTH, mean=T8_MEAN, red=T8_RED, lab='<i>T</i><sub>8</sub>' + UNIT_C, exp='5', yr=[2.17, 3.22], yt=[2.2, 2.4, 2.6, 2.8, 3.0, 3.2], fmt='.1f'),
    dict(runs=TEX_RUNS, tr=T_SMOOTH, mean=TEX_MEAN, red=TEX_RED, lab='<i>T</i><sub>ex</sub>' + UNIT_C, exp='5', yr=[0.76, 2.15], yt=[1.0, 1.25, 1.5, 1.75, 2.0], fmt='.2f'),
    dict(runs=T04_RUNS, tr=T_SMOOTH, mean=T04_MEAN, red=T04_RED, lab='<i>T</i><sub>0</sub><sup>4</sup>' + UNIT_C, exp='6', yr=[0.03, 1.74], yt=[0.5, 1.0, 1.5], fmt='.1f'),
    dict(runs=TA4_RUNS, tr=T_NOISY, mean=TA4_MEAN, red=TA4_RED, lab='<i>T</i><sub>A</sub><sup>4</sup>' + UNIT_C, exp='6', yr=[0.065, 1.085], yt=[0.2, 0.4, 0.6, 0.8, 1.0], fmt='.1f'),
    dict(runs=TR_RUNS, tr=T_SMOOTH, mean=TR_MEAN, red=TR_RED, lab='<i>T</i><sub>r</sub>' + UNIT_C, exp='5', yr=[0.49, 2.19], yt=[0.5, 1.0, 1.5, 2.0], fmt='.1f'),
    dict(runs=M0_RUNS, tr=T_SMOOTH, mean=M0_MEAN, red=M0_RED, lab='<i>M</i><sub>0</sub>' + UNIT_C, exp='5', yr=[5.33, 7.82], yt=[5.5, 6.0, 6.5, 7.0, 7.5], fmt='.1f'),
    dict(runs=M2_RUNS, tr=T_NOISY, mean=M2_MEAN, red=M2_RED, lab='<i>M</i><sub>2</sub>' + UNIT_C, exp='6', yr=[0.30, 1.37], yt=[0.5, 0.75, 1.0, 1.25], fmt='.2f'),
    dict(runs=KD_RUNS, tr=T_NOISY, mean=KD_MEAN, red=KD_RED, lab='<i>K</i><sub>D</sub>' + UNIT_C, exp='5', yr=[2.92, 4.55], yt=[3.0, 3.5, 4.0, 4.5], fmt='.1f'),
    dict(runs=K_RUNS, tr=T_NOISY, mean=K_MEAN, red=K_RED, lab='<i>K</i>' + UNIT_C, exp='6', yr=[4.72, 5.25], yt=[4.8, 5.0, 5.2], fmt='.1f'),
    dict(runs=I2_RUNS, tr=T_NOISY, mean=I2_MEAN, red=I2_RED, lab='<i>I</i><sub>2</sub>' + UNIT_G, exp='\u221212', yr=[2.62, 3.84], yt=[2.75, 3.0, 3.25, 3.5, 3.75], fmt='.2f'),
    dict(runs=IG_RUNS, tr=T_NOISY, mean=IG_MEAN, red=IG_RED, lab='<i>I</i><sub>\u03b3</sub>' + UNIT_G, exp='\u221211', yr=[1.645, 1.866], yt=[1.65, 1.7, 1.75, 1.8, 1.85], fmt='.2f'),
]

ROW_Y = [(11, 118), (193, 301), (378, 486), (562, 670), (746, 854), (930, 1038)]
COL_X = [
    [(27, 227), (259, 458), (491, 690)],
    [(21, 218), (255, 453), (493, 690)],
    [(21, 221), (253, 454), (491, 690)],
    [(27, 227), (259, 459), (491, 690)],
    [(27, 227), (259, 459), (491, 690)],
    [(27, 227), (259, 459), (491, 690)],
]

fig = go.Figure()
layout_axes = {}
annotations = []
for i, p in enumerate(PANELS):
    k = i + 1
    xa = 'x' if k == 1 else f'x{k}'
    ya = 'y' if k == 1 else f'y{k}'
    for j, run in enumerate(p['runs']):
        fig.add_trace(go.Scatter(x=p['tr'], y=run, mode='lines',
                                 line=dict(color=RUN_COLORS[j], width=1.2),
                                 opacity=0.85, xaxis=xa, yaxis=ya,
                                 showlegend=False, hoverinfo='skip'))
    fig.add_trace(go.Scatter(x=T_FINE, y=p['mean'], mode='lines',
                             line=dict(color='black', width=2),
                             xaxis=xa, yaxis=ya, showlegend=False, hoverinfo='skip'))
    fig.add_trace(go.Scatter(x=p.get('tred', T_FINE), y=p['red'], mode='lines',
                             line=dict(color='#ff0000', width=2),
                             xaxis=xa, yaxis=ya, showlegend=False, hoverinfo='skip'))

    r, c = divmod(i, 3)
    top, bot = ROW_Y[r]
    left, right = COL_X[r][c]
    common = dict(showline=True, linecolor='black', linewidth=0.8, mirror=True,
                  ticks='outside', ticklen=3.5, tickwidth=0.8, tickcolor='black',
                  showgrid=False, zeroline=False, automargin=False,
                  tickfont=dict(family=FONT, size=8, color='black'))
    layout_axes['xaxis' if k == 1 else f'xaxis{k}'] = dict(
        common, domain=[left / W, right / W], range=[0, 125.5], anchor=ya,
        tickvals=X_TICKS, tickformat='d',
        title=dict(text='<i>t</i> (days)', font=dict(family=FONT, size=8, color='black'), standoff=2))
    layout_axes['yaxis' if k == 1 else f'yaxis{k}'] = dict(
        common, domain=[1 - bot / H, 1 - top / H], range=p['yr'], anchor=xa,
        tickvals=p['yt'], tickformat=p['fmt'],
        title=dict(text=p['lab'], font=dict(family=FONT, size=7.5, color='black'), standoff=2))
    annotations.append(dict(text='\u00d710<sup>' + p['exp'] + '</sup>', xref='paper', yref='paper',
                            x=left / W, y=1 - (top - 0.5) / H, xanchor='left', yanchor='bottom',
                            showarrow=False, font=dict(family=FONT, size=6.5, color='black')))

fig.update_layout(width=W, height=H, margin=dict(l=0, r=0, t=0, b=0),
                  paper_bgcolor='white', plot_bgcolor='white',
                  showlegend=False, annotations=annotations, **layout_axes)

fig.write_html('out.html')
